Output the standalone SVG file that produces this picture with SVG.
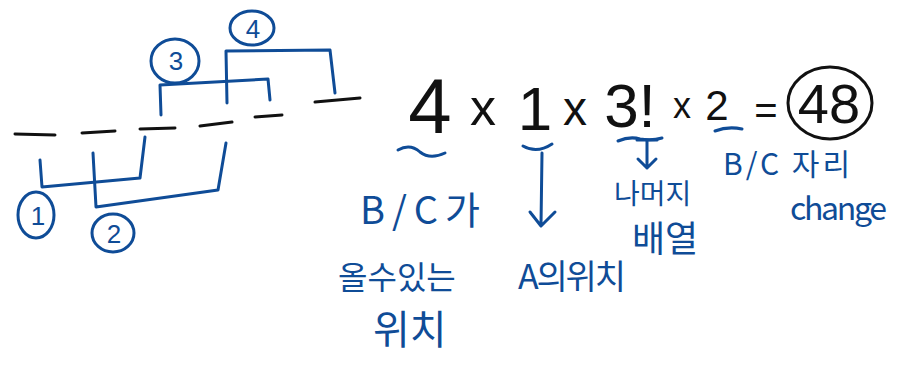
<svg xmlns="http://www.w3.org/2000/svg" width="899" height="366" viewBox="0 0 899 366">
<style>
.dash{stroke:#111;stroke-width:3;stroke-linecap:round;fill:none}
.ln{stroke:#0f4c97;stroke-width:3;stroke-linecap:round;stroke-linejoin:round;fill:none}
.bt{fill:#0f4c97;font-family:"Noto Sans CJK KR","Noto Sans",sans-serif}
.kt{fill:#111;font-family:"Liberation Sans","DejaVu Sans",sans-serif;text-anchor:middle}
.cn{fill:#0f4c97;font-family:"Liberation Sans",sans-serif;text-anchor:middle;font-size:26px}
</style>
<rect width="899" height="366" fill="#fff"/>
<g id="slots">
<path class="dash" d="M15,134 L55,135 M82,133 L115,131 M140,129 L175,128 M200,126 L232,122 M255,117 L282,115 M315,102 L360,98"/>
</g>
<g id="connectors">
<path class="ln" d="M40,160 L42,187 L140,178 L145,137"/>
<path class="ln" d="M93,153 L96,207 L218,190 L226,143"/>
<path class="ln" d="M161,115 L160,85 L268,79 L270,100"/>
<path class="ln" d="M227,103 L226,51 L330,50 L335,93"/>
<path class="ln" d="M542,153 L541,225 M530,212 L541,226 L555,212"/>
<path class="ln" d="M637,140 L657,140 M647,140 L647,168 M638,159 L647,168 L656,159"/>
<path class="ln" d="M398,150 Q410,143 420,152 Q430,160 445,153"/>
<path class="ln" d="M523,146 Q537,154 552,144"/>
<path class="ln" d="M618,141 Q630,136 640,139 Q652,141 662,138"/>
<path class="ln" d="M715,131 Q728,126 742,129"/>
</g>
<g id="n1"><ellipse class="ln" cx="36" cy="215" rx="18" ry="23"/><text class="cn" x="38" y="225">1</text></g>
<g id="n2"><ellipse class="ln" cx="113" cy="233" rx="21" ry="19"/><text class="cn" x="114" y="243">2</text></g>
<g id="n3"><ellipse class="ln" cx="175" cy="61" rx="24" ry="22"/><text class="cn" x="176" y="70">3</text></g>
<g id="n4"><ellipse class="ln" cx="252" cy="28" rx="22" ry="17"/><text class="cn" x="253" y="38">4</text></g>
<g id="formula">
<text class="kt" x="430" y="133" font-size="78">4</text>
<text class="kt" x="483" y="125" font-size="52">x</text>
<text class="kt" x="535" y="130" font-size="62">1</text>
<text class="kt" x="575" y="125" font-size="48">x</text>
<text class="kt" x="630" y="127" font-size="62">3!</text>
<text class="kt" x="682" y="118" font-size="36">x</text>
<text class="kt" x="717" y="120" font-size="42">2</text>
<text class="kt" x="766" y="124" font-size="40">=</text>
</g>
<g id="result">
<ellipse cx="830" cy="103" rx="42" ry="36" fill="none" stroke="#111" stroke-width="3"/>
<text class="kt" x="829" y="123" font-size="56">48</text>
</g>
<g id="label-bc"><text class="bt" x="360" y="224" font-size="38" textLength="120" lengthAdjust="spacing">B/C가</text>
<text class="bt" x="338" y="289" font-size="32">올수있는</text>
<text class="bt" x="373" y="344" font-size="40">위치</text></g>
<g id="label-a"><text class="bt" x="518" y="289" font-size="34" textLength="108" lengthAdjust="spacing">A의위치</text></g>
<g id="label-rest"><text class="bt" x="614" y="204" font-size="28">나머지</text>
<text class="bt" x="632" y="252" font-size="36">배열</text></g>
<g id="label-change"><text class="bt" x="723" y="175" font-size="30" textLength="127" lengthAdjust="spacing">B/C 자리</text>
<text class="bt" x="790" y="220" font-size="32" textLength="97" lengthAdjust="spacing">change</text></g>
</svg>
